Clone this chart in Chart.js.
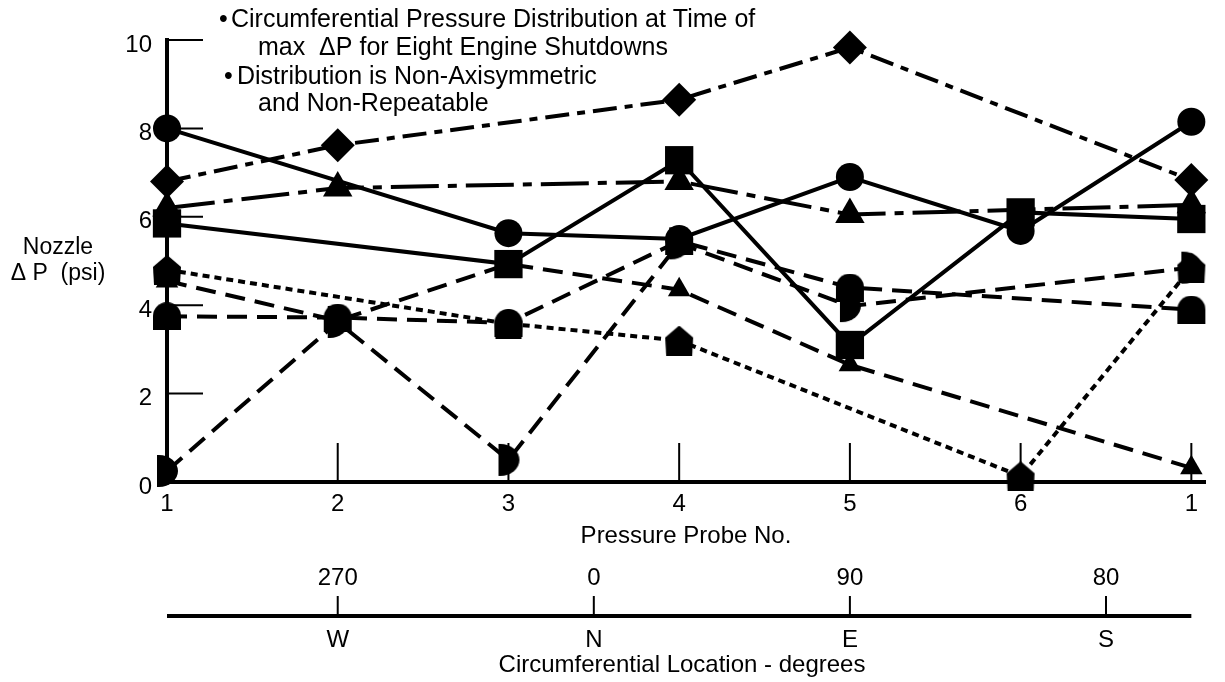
<!DOCTYPE html>
<html>
<head>
<meta charset="utf-8">
<script src="https://cdn.jsdelivr.net/npm/chart.js@4.4.0/dist/chart.umd.min.js"></script>
<style>
  html, body { margin: 0; padding: 0; background: #fff; }
  #wrap { width: 1225px; height: 682px; }
</style>
</head>
<body>
<div id="wrap"><canvas id="nozzleChart" width="1225" height="682"></canvas></div>
<script>
"use strict";
var probeLabels = ['1', '2', '3', '4', '5', '6', '1'];
var yTicks = [0, 2, 4, 6, 8, 10];
var locTickPos = [1, 2.5, 4, 5.5];
var locDegrees = ['270', '0', '90', '80'];
var locNames = ['W', 'N', 'E', 'S'];

// one array per engine shutdown, null = nothing plotted at that probe
var shutdownCircle = [8.0, null, 5.63, 5.5, 6.9, 5.68, 8.15];
var shutdownDiamond = [6.8, 7.62, null, 8.65, 9.83, null, 6.83];
var shutdownTriangle = [6.2, 6.65, null, 6.8, 6.05, null, 6.27];
var shutdownSquare = [5.85, null, 4.93, 7.28, 3.1, 6.1, 5.95];
var shutdownDotted = [4.8, null, 3.58, 3.2, null, 0.13, 4.85];
var shutdownDashA = [4.55, 3.65, 4.93, 4.35, 2.65, null, 0.32];
var shutdownDashB = [3.75, 3.72, 3.6, 5.45, 4.4, null, 3.9];
var shutdownDashC = [0.25, 3.62, 0.5, 5.4, 3.98, null, 4.85];

var FONT = "'Liberation Sans', Arial, sans-serif";
Chart.defaults.font.family = FONT;
Chart.defaults.color = '#000';

function markerCanvas(w, h, drawFn) {
  var c = document.createElement('canvas');
  c.width = w;
  c.height = h;
  var g = c.getContext('2d');
  g.fillStyle = '#000';
  g.beginPath();
  drawFn(g, w, h);
  g.closePath();
  g.fill();
  return c;
}

var domeMark = markerCanvas(30, 28, function (g, w, h) {
  g.moveTo(1, h);
  g.lineTo(1, 14);
  g.arc(15, 14, 14, Math.PI, 0);
  g.lineTo(29, h);
});
var houseMark = markerCanvas(30, 30, function (g, w, h) {
  g.moveTo(15, 0);
  g.lineTo(29, 12);
  g.lineTo(28, 30);
  g.lineTo(2, 30);
  g.lineTo(1, 12);
});
var halfMark = markerCanvas(26, 34, function (g, w, h) {
  g.moveTo(3, 1);
  g.ellipse(5, 17, 19, 16, 0, -Math.PI / 2, Math.PI / 2);
  g.lineTo(3, 33);
});

function series(values, dash, style, radius) {
  return {
    data: values.map(function (v, i) { return { x: i, y: v }; }),
    borderColor: '#000',
    borderWidth: 4,
    borderDash: dash,
    pointStyle: style,
    pointRadius: radius,
    pointBackgroundColor: '#000',
    pointBorderColor: '#000',
    pointBorderWidth: 0,
    spanGaps: true,
    tension: 0,
    clip: false
  };
}

var extras = {
  id: 'extras',
  beforeDatasetsDraw: function (chart) {
    var ctx = chart.ctx, xs = chart.scales.x, ys = chart.scales.y;
    var x0 = xs.getPixelForValue(0), y0 = ys.getPixelForValue(0);
    ctx.save();
    ctx.strokeStyle = '#000';
    ctx.lineWidth = 2;
    ctx.beginPath();
    yTicks.slice(1).forEach(function (v) {
      var py = ys.getPixelForValue(v);
      ctx.moveTo(x0, py);
      ctx.lineTo(x0 + 36, py);
    });
    for (var i = 1; i < probeLabels.length; i++) {
      var px = xs.getPixelForValue(i);
      ctx.moveTo(px, y0);
      ctx.lineTo(px, y0 - 39);
    }
    ctx.stroke();
    ctx.restore();
  },
  afterDraw: function (chart) {
    var ctx = chart.ctx, xs = chart.scales.x;
    ctx.save();
    ctx.fillStyle = '#000';
    ctx.strokeStyle = '#000';
    ctx.textBaseline = 'middle';

    ctx.font = '23px ' + FONT;
    ctx.textAlign = 'center';
    ctx.fillText('Nozzle', 58, 248);
    ctx.fillText('Δ P  (psi)', 58, 274);

    ctx.font = '25px ' + FONT;
    ctx.textAlign = 'left';
    ctx.fillText('•', 219, 20);
    ctx.fillText('Circumferential Pressure Distribution at Time of', 231, 20);
    ctx.fillText('max  ΔP for Eight Engine Shutdowns', 258, 48);
    ctx.fillText('•', 224, 77);
    ctx.fillText('Distribution is Non-Axisymmetric', 237, 77);
    ctx.fillText('and Non-Repeatable', 258, 104);

    // circumferential location scale under the probe axis
    var lineY = 616;
    ctx.lineWidth = 4;
    ctx.beginPath();
    ctx.moveTo(xs.getPixelForValue(0), lineY);
    ctx.lineTo(xs.getPixelForValue(6), lineY);
    ctx.stroke();
    ctx.lineWidth = 2;
    ctx.font = '24px ' + FONT;
    ctx.textAlign = 'center';
    locTickPos.forEach(function (p, i) {
      var px = xs.getPixelForValue(p);
      ctx.beginPath();
      ctx.moveTo(px, lineY);
      ctx.lineTo(px, lineY - 20);
      ctx.stroke();
      ctx.fillText(locDegrees[i], px, 578);
      ctx.fillText(locNames[i], px, 640);
    });
    ctx.fillText('Circumferential Location - degrees', (xs.left + xs.right) / 2 - 4, 665);
    ctx.restore();
  }
};

var nozzleChart = new Chart(document.getElementById('nozzleChart').getContext('2d'), {
  type: 'line',
  data: {
    datasets: [
      series(shutdownCircle, [], 'circle', 14),
      series(shutdownSquare, [], 'rect', 20),
      series(shutdownDiamond, [24, 8, 8, 8], 'rectRot', 17),
      series(shutdownTriangle, [48, 9, 9, 9], 'triangle', 17),
      series(shutdownDotted, [7, 5], houseMark, 14),
      series(shutdownDashA, [20, 10], 'triangle', 13),
      series(shutdownDashB, [20, 10], domeMark, 14),
      series(shutdownDashC, [20, 10], halfMark, 14)
    ]
  },
  options: {
    responsive: false,
    animation: false,
    devicePixelRatio: 1,
    layout: { padding: { top: 40, right: 13, bottom: 0, left: 0 } },
    plugins: { legend: { display: false }, tooltip: { enabled: false } },
    scales: {
      x: {
        type: 'linear',
        min: 0,
        max: 6.08,
        afterBuildTicks: function (s) { s.ticks = probeLabels.map(function (l, i) { return { value: i }; }); },
        afterFit: function (s) { s.height = 200; },
        grid: { display: false, drawTicks: false },
        border: { display: true, color: '#000', width: 4 },
        ticks: {
          autoSkip: false,
          maxRotation: 0,
          padding: 8,
          font: { size: 24 },
          color: '#000',
          callback: function (v, i) { return probeLabels[i]; }
        },
        title: {
          display: true,
          text: 'Pressure Probe No.',
          font: { size: 24 },
          color: '#000',
          padding: { top: 0, bottom: 131 }
        }
      },
      y: {
        min: 0,
        max: 10,
        afterBuildTicks: function (s) { s.ticks = yTicks.map(function (v) { return { value: v }; }); },
        afterFit: function (s) { s.width = 167; },
        grid: { display: false, drawTicks: false },
        border: { display: true, color: '#000', width: 4 },
        ticks: { padding: 15, labelOffset: 5, font: { size: 24 }, color: '#000' }
      }
    }
  },
  plugins: [extras]
});
</script>
</body>
</html>
